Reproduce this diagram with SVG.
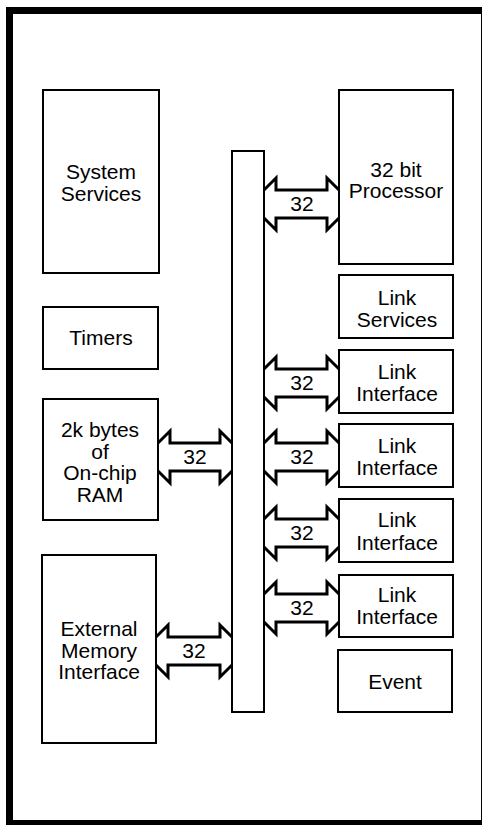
<svg xmlns="http://www.w3.org/2000/svg" width="482" height="825" viewBox="0 0 482 825">
<style>
.box{fill:#fff;stroke:#000;stroke-width:2}
.t{font-family:"Liberation Sans",Arial,sans-serif;font-size:21px;fill:#000;text-anchor:middle}
.arr{fill:none;stroke:#000;stroke-width:3;stroke-linejoin:miter}
</style>
<rect width="482" height="825" fill="#fff"/>
<g id="frame">
<rect x="7" y="7" width="475" height="7" fill="#000"/>
<rect x="6" y="7" width="7" height="818" fill="#000"/>
<rect x="6" y="820" width="476" height="5" fill="#000"/>
<line x1="481.5" y1="7" x2="481.5" y2="825" stroke="#000" stroke-width="1"/>
</g>
<g id="bus"><rect class="box" x="232" y="151" width="32" height="561"/></g>
<g id="system-services"><rect class="box" x="43" y="90" width="116" height="183"/><text class="t" x="101" y="179">System</text><text class="t" x="101" y="201">Services</text></g>
<g id="timers"><rect class="box" x="43" y="307" width="115" height="62"/><text class="t" x="101" y="345">Timers</text></g>
<g id="ram"><rect class="box" x="43" y="399" width="115" height="121"/><text class="t" x="100" y="437">2k bytes</text><text class="t" x="100" y="459">of</text><text class="t" x="100" y="480">On-chip</text><text class="t" x="100" y="502">RAM</text></g>
<g id="external-memory"><rect class="box" x="42" y="555" width="114" height="188"/><text class="t" x="99" y="636">External</text><text class="t" x="99" y="658">Memory</text><text class="t" x="99" y="679">Interface</text></g>
<g id="processor"><rect class="box" x="339" y="90" width="114" height="174"/><text class="t" x="396" y="177">32 bit</text><text class="t" x="396" y="198">Processor</text></g>
<g id="link-services"><rect class="box" x="339" y="275" width="114" height="63"/><text class="t" x="397" y="305">Link</text><text class="t" x="397" y="327">Services</text></g>
<g id="link-interface-1"><rect class="box" x="339" y="350" width="114" height="63"/><text class="t" x="397" y="379">Link</text><text class="t" x="397" y="401">Interface</text></g>
<g id="link-interface-2"><rect class="box" x="339" y="424" width="114" height="63"/><text class="t" x="397" y="453">Link</text><text class="t" x="397" y="475">Interface</text></g>
<g id="link-interface-3"><rect class="box" x="339" y="499" width="114" height="63"/><text class="t" x="397" y="527">Link</text><text class="t" x="397" y="550">Interface</text></g>
<g id="link-interface-4"><rect class="box" x="339" y="575" width="114" height="62"/><text class="t" x="397" y="602">Link</text><text class="t" x="397" y="624">Interface</text></g>
<g id="event"><rect class="box" x="338" y="650" width="114" height="62"/><text class="t" x="395" y="689">Event</text></g>
<g id="connectors">
<path class="arr" d="M264 190 L276 178 L276 190 L327 190 L327 178 L339 190 M264 218 L276 230 L276 218 L327 218 L327 230 L339 218"/>
<text class="t" x="302" y="211">32</text>
<path class="arr" d="M264 369 L276 357 L276 369 L327 369 L327 357 L339 369 M264 397 L276 409 L276 397 L327 397 L327 409 L339 397"/>
<text class="t" x="302" y="390">32</text>
<path class="arr" d="M264 443 L276 431 L276 443 L327 443 L327 431 L339 443 M264 471 L276 483 L276 471 L327 471 L327 483 L339 471"/>
<text class="t" x="302" y="464">32</text>
<path class="arr" d="M264 519 L276 507 L276 519 L327 519 L327 507 L339 519 M264 547 L276 559 L276 547 L327 547 L327 559 L339 547"/>
<text class="t" x="302" y="540">32</text>
<path class="arr" d="M264 594 L276 582 L276 594 L327 594 L327 582 L339 594 M264 622 L276 634 L276 622 L327 622 L327 634 L339 622"/>
<text class="t" x="302" y="615">32</text>
<path class="arr" d="M158 443 L170 431 L170 443 L220 443 L220 431 L232 443 M158 471 L170 483 L170 471 L220 471 L220 483 L232 471"/>
<text class="t" x="195" y="464">32</text>
<path class="arr" d="M156 637 L168 625 L168 637 L220 637 L220 625 L232 637 M156 665 L168 677 L168 665 L220 665 L220 677 L232 665"/>
<text class="t" x="194" y="658">32</text>
</g>
</svg>
